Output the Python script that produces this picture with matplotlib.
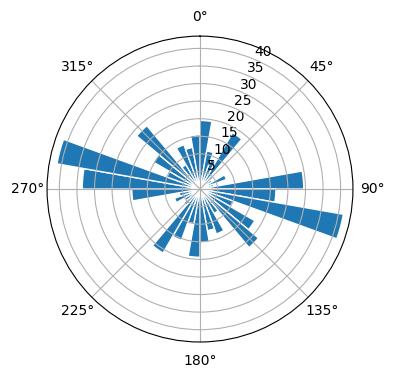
import numpy as np
import matplotlib
matplotlib.use("Agg")
import matplotlib.pyplot as plt

# Bin centres (degrees, clockwise from north) and bar lengths
directions = [5, 15, 25, 35, 45, 55, 65, 75, 85, 95, 105, 115,
              125, 135, 145, 155, 165, 175, 185, 195, 205, 215, 225, 235,
              245, 255, 265, 275, 285, 295, 305, 315, 325, 335, 345, 355]
counts = [19.5, 11, 9, 18.5, 5, 4, 8, 4, 29.5, 21.6, 41.4, 10,
          18, 21.7, 8, 13.6, 12, 15.2, 19.4, 10, 15.5, 21, 6, 5,
          7.7, 6, 19.4, 33.5, 41.3, 10, 15.3, 23.5, 8, 13.4, 12, 15.4]
bin_width_deg = 10

fig = plt.figure(figsize=(3.96, 3.8), dpi=100)
ax = fig.add_axes([0.1187, 0.1, 0.7727, 0.805], projection='polar')
ax.set_theta_zero_location('N')
ax.set_theta_direction(-1)
ax.bar(np.deg2rad(directions), counts, width=np.deg2rad(bin_width_deg),
       color='#1f77b4', edgecolor='white', linewidth=1)
ax.set_ylim(0, 43.5)
ax.set_yticks([5, 10, 15, 20, 25, 30, 35, 40])
fig.savefig('out.png', dpi=100)
